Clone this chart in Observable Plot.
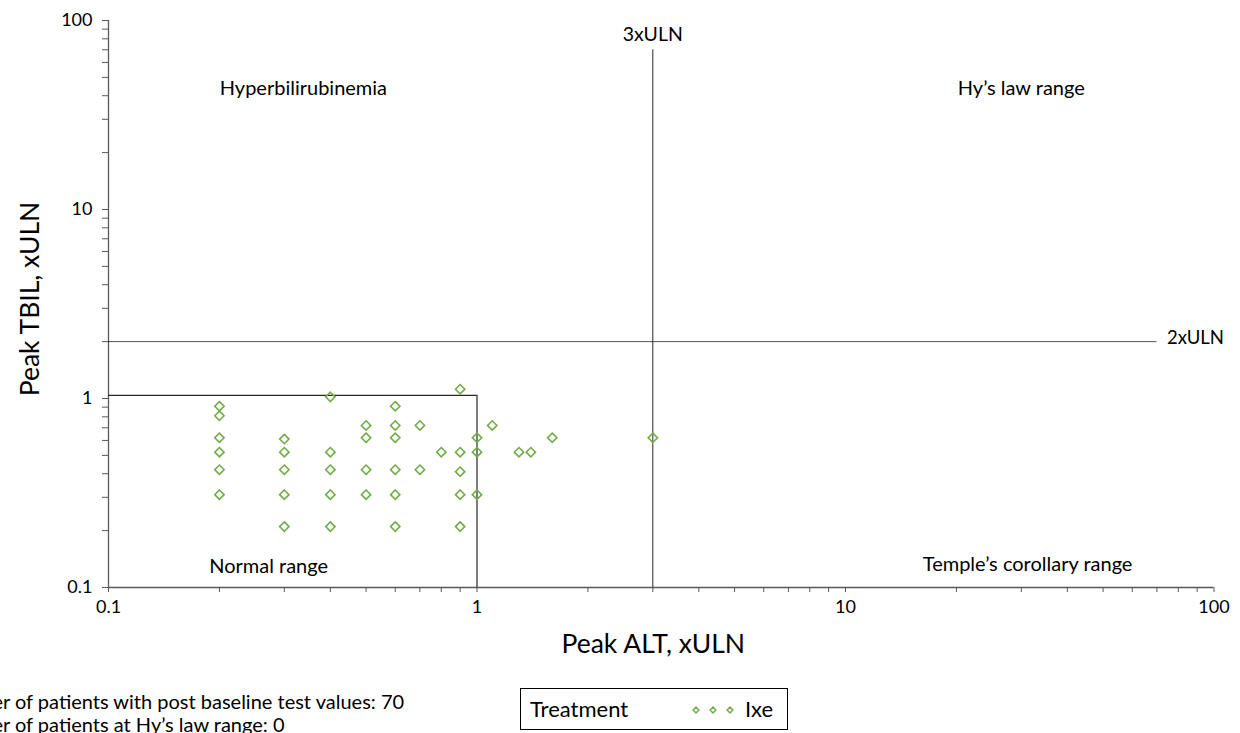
<!DOCTYPE html>
<html>
<head>
<meta charset="utf-8">
<script src="https://cdn.jsdelivr.net/npm/d3@7"></script>
<script src="https://cdn.jsdelivr.net/npm/@observablehq/plot@0.6"></script>
<style>
  html, body { margin: 0; padding: 0; background: #fff; }
  body { width: 1240px; height: 733px; position: relative; overflow: hidden; font-family: Lato, "Open Sans", sans-serif; color: #000; }
  #chart { position: absolute; left: 0; top: 0; }
  .note { position: absolute; font-size: 20px; white-space: nowrap; }
  #legend { position: absolute; left: 520px; top: 688px; width: 266px; height: 40px; border: 1.5px solid #000; font-size: 22px; }
  #legend .lab { position: absolute; left: 9px; top: 6px; }
  #legend .ser { position: absolute; left: 224px; top: 6px; }
  #legend svg { position: absolute; left: 168px; top: 14px; }
</style>
</head>
<body>
<div id="chart"></div>
<div class="note" id="n1">Number of patients with post baseline test values: 70</div>
<div class="note" id="n2">Number of patients at Hy’s law range: 0</div>
<div id="legend"><span class="lab">Treatment</span><svg id="legsym" width="52" height="14"></svg><span class="ser">Ixe</span></div>
<script>
// ---- data ----
const peakALT  = [0.2,0.2,0.2,0.2,0.2,0.2,
                  0.3,0.3,0.3,0.3,0.3,
                  0.4,0.4,0.4,0.4,0.4,
                  0.5,0.5,0.5,0.5,
                  0.6,0.6,0.6,0.6,0.6,0.6,
                  0.7,0.7,
                  0.8,
                  0.9,0.9,0.9,0.9,0.9,
                  1.0,1.0,1.0,
                  1.1,1.3,1.4,1.6,3.0];
const peakTBIL = [0.91,0.81,0.62,0.52,0.42,0.31,
                  0.61,0.52,0.42,0.31,0.21,
                  1.02,0.52,0.42,0.31,0.21,
                  0.72,0.62,0.42,0.31,
                  0.91,0.72,0.62,0.42,0.31,0.21,
                  0.72,0.42,
                  0.52,
                  1.12,0.52,0.41,0.31,0.21,
                  0.62,0.52,0.31,
                  0.72,0.52,0.52,0.62,0.62];
const treatment = "Ixe";
const decadeTicks = [0.1, 1, 10, 100];
const minorMultipliers = [2,3,4,5,6,7,8,9];

// reference lines
const uln3 = 3, uln2 = 2, refLineEnd = 70;
const normalBoxALT = 1, normalBoxTBIL = 1.04;

// region annotations
const regionLabels = ["Hyperbilirubinemia", "Hy’s law range", "Normal range", "Temple’s corollary range"];
const regionX = [0.338, 30, 0.272, 31.2];
const regionY = [43.7, 43.7, 0.129, 0.132];

const points = peakALT.map((x, i) => ({x, y: peakTBIL[i], treatment}));
const regions = regionLabels.map((t, i) => ({t, x: regionX[i], y: regionY[i]}));
const allTicks = decadeTicks.slice(0, -1).flatMap(d => [d, ...minorMultipliers.map(m => +(d * m).toPrecision(3))]).concat([decadeTicks[decadeTicks.length - 1]]);
const fmt = d => decadeTicks.includes(d) ? String(d) : "";

const green = "#70AD47";
const axisColor = "#595959";
const lineColor = "#262626";

const plot = Plot.plot({
  width: 1240,
  height: 680,
  marginTop: 20,
  marginLeft: 108,
  marginRight: 26.5,
  marginBottom: 93,
  style: {fontFamily: "Lato, 'Open Sans', sans-serif", fontSize: "18px", color: "#000", background: "#fff", overflow: "visible"},
  x: {type: "log", domain: [0.1, 100], axis: null},
  y: {type: "log", domain: [0.1, 100], axis: null},
  marks: [
    Plot.axisX(allTicks, {tickSize: 5, tickPadding: 8, tickFormat: fmt, stroke: axisColor, fill: "#000", fontSize: 18, label: null}),
    Plot.axisY(allTicks, {tickSize: 6, tickPadding: 10, tickFormat: fmt, stroke: axisColor, fill: "#000", fontSize: 18, label: null}),
    Plot.ruleY([0.1], {stroke: axisColor, strokeWidth: 1.3}),
    Plot.ruleX([0.1], {stroke: axisColor, strokeWidth: 1.3}),
    // normal range box
    Plot.ruleY([normalBoxTBIL], {x1: 0.1, x2: normalBoxALT, stroke: lineColor, strokeWidth: 1.2}),
    Plot.ruleX([normalBoxALT], {y1: 0.1, y2: normalBoxTBIL, stroke: lineColor, strokeWidth: 1.2}),
    // 3xULN and 2xULN lines
    Plot.ruleX([uln3], {y1: 0.1, y2: refLineEnd, stroke: lineColor, strokeWidth: 1}),
    Plot.ruleY([uln2], {x1: 0.1, x2: refLineEnd, stroke: lineColor, strokeWidth: 0.8}),
    Plot.text(["3xULN"], {x: uln3, y: refLineEnd, text: d => d, dy: -15, fontSize: 19.5}),
    Plot.text(["2xULN"], {x: refLineEnd, y: uln2, text: d => d, dx: 10, dy: -4, textAnchor: "start", fontSize: 18.5}),
    Plot.text(regions, {x: "x", y: "y", text: "t", fontSize: 20}),
    Plot.dot(points, {x: "x", y: "y", symbol: "diamond2", r: 4.2, stroke: green, strokeWidth: 1.6, fill: "none"}),
    // axis titles
    Plot.text(["Peak ALT, xULN"], {frameAnchor: "bottom", text: d => d, dy: 65, dx: -8, fontSize: 26.5}),
    Plot.text(["Peak TBIL, xULN"], {frameAnchor: "left", textAnchor: "middle", text: d => d, dx: -78, dy: -5, rotate: -90, fontSize: 26.5})
  ]
});
document.getElementById("chart").appendChild(plot);

// legend symbols
const legsvg = d3.select("#legsym");
[7, 24, 41].forEach(cx => {
  legsvg.append("path").attr("d", d3.symbol(d3.symbolDiamond2, 22)()).attr("transform", `translate(${cx},7)`)
    .attr("fill", "none").attr("stroke", green).attr("stroke-width", 1.4);
});

// bottom notes: clipped at the left edge like the reference
const ctx = document.createElement("canvas").getContext("2d");
ctx.font = "20px Lato, 'Open Sans', sans-serif";
const off = ctx.measureText("Numbe").width - 3;
const n1 = document.getElementById("n1"), n2 = document.getElementById("n2");
n1.style.left = (-off) + "px"; n1.style.top = "689px";
n2.style.left = (-off) + "px"; n2.style.top = "712px";
</script>
</body>
</html>
